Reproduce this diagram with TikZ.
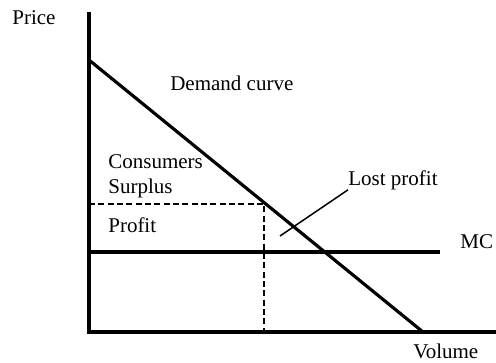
\documentclass[tikz,border=0pt]{standalone}
\usepackage{fontspec}
\setmainfont{Liberation Serif}
\usepackage{tikz}
\tikzset{>=latex}
\tikzset{
  axis/.style={line width=1.9pt},
  curve/.style={line width=1.9pt},
  guide/.style={line width=1pt, dash pattern=on 3.6pt off 2pt},
  leader/.style={line width=0.9pt},
  lbl/.style={inner sep=0pt, anchor=base west, font=\fontsize{12.6}{15}\selectfont}
}

\begin{document}
\begin{tikzpicture}[x=0.6pt,y=-0.6pt]
            \useasboundingbox (0,0) rectangle (496,362);
            \coordinate (ytop) at (89,12);
            \coordinate (o) at (89,332);
            \coordinate (xend) at (496,332);
            \coordinate (dtop) at (89,60);
            \coordinate (dbot) at (423,332);
            \coordinate (mcl) at (89,252);
            \coordinate (mcr) at (440,252);
            \coordinate (pl) at (89,204);
            \coordinate (p) at (264,204);
            \coordinate (q) at (264,332);
            \coordinate (lp) at (280,236);
            \node[lbl] (price) at (12,25) {Price};
            \node[lbl] (vol) at (413,358) {Volume};
            \node[lbl] (dem) at (170,91) {Demand curve};
            \node[lbl] (cons) at (108,168) {Consumers};
            \node[lbl] (surp) at (108,193) {Surplus};
            \node[lbl] (prof) at (108,232) {Profit};
            \node[lbl] (lost) at (348,185) {Lost profit};
            \node[lbl] (mc) at (460,248) {MC};
            \draw[guide] (pl) -- (p) -- (q);
            \draw[axis] (ytop) -- (o) -- (xend);
            \draw[curve] (dtop) -- (dbot);
            \draw[curve] (mcl) -- (mcr);
            \draw[leader] (lp) -- (lost.south west);
        \end{tikzpicture}
\end{document}
